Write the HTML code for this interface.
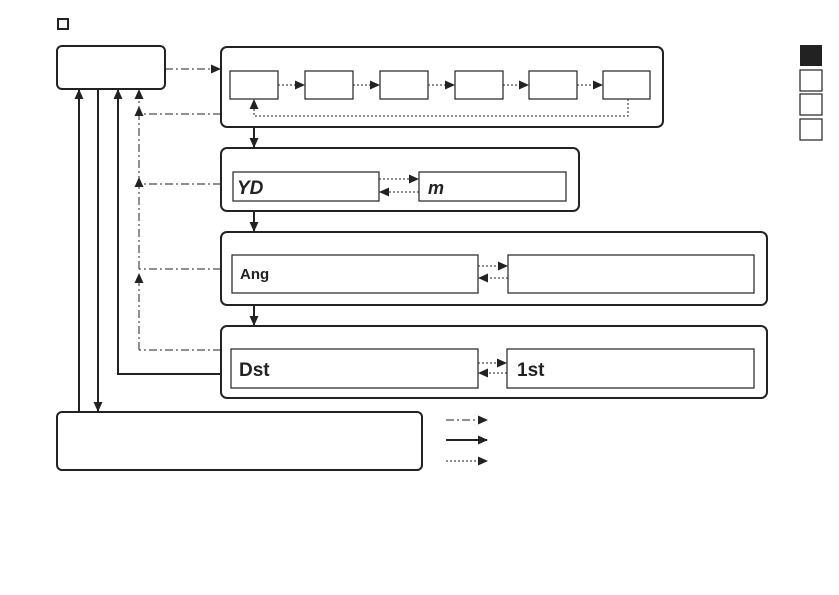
<!DOCTYPE html>
<html><head><style>body{margin:0;background:#fff}svg{display:block}</style></head><body>
<svg width="839" height="595" viewBox="0 0 839 595" xmlns="http://www.w3.org/2000/svg" font-family="Liberation Sans, sans-serif">
<defs>
<marker id="a" markerWidth="10" markerHeight="10" refX="9" refY="5" orient="auto" markerUnits="userSpaceOnUse"><path d="M0,0.5 L10,5 L0,9.5 z" fill="#222"/></marker>
</defs>
<g fill="none" stroke="#222">
<rect x="58" y="19" width="10" height="10" stroke-width="2"/>
<rect x="57" y="46" width="108" height="43" rx="5" stroke-width="2"/>
<rect x="221" y="47" width="442" height="80" rx="6" stroke-width="2"/>
<rect x="221" y="148" width="358" height="63" rx="6" stroke-width="2"/>
<rect x="221" y="232" width="546" height="73" rx="6" stroke-width="2"/>
<rect x="221" y="326" width="546" height="72" rx="6" stroke-width="2"/>
<rect x="57" y="412" width="365" height="58" rx="5" stroke-width="2"/>
<g stroke-width="1.2">
<rect x="230" y="71" width="48" height="28"/><rect x="305" y="71" width="48" height="28"/><rect x="380" y="71" width="48" height="28"/><rect x="455" y="71" width="48" height="28"/><rect x="529" y="71" width="48" height="28"/><rect x="603" y="71" width="47" height="28"/>
<rect x="233" y="172" width="146" height="29"/><rect x="419" y="172" width="147" height="29"/>
<rect x="232" y="255" width="246" height="38"/><rect x="508" y="255" width="246" height="38"/>
<rect x="231" y="349" width="247" height="39"/><rect x="507" y="349" width="247" height="39"/>
</g>
<g stroke-width="1" stroke-dasharray="2,2" marker-end="url(#a)">
<path d="M278 85H304"/><path d="M353 85H379"/><path d="M428 85H454"/><path d="M503 85H528"/><path d="M577 85H602"/>
<path d="M628 99V116H254V100"/>
<path d="M379 179H418"/><path d="M419 192H380"/>
<path d="M478 266H507"/><path d="M508 278H479"/>
<path d="M478 363H506"/><path d="M507 373H479"/>
<path d="M446 461H487"/>
</g>
<g stroke-width="1" stroke-dasharray="8,3,2,3">
<path d="M165 69H220" marker-end="url(#a)"/>
<path d="M221 114H139"/><path d="M221 184H139"/><path d="M221 269H139"/><path d="M221 350H139"/>
<path d="M139 350V274" marker-end="url(#a)"/><path d="M139 269V178" marker-end="url(#a)"/><path d="M139 184V107" marker-end="url(#a)"/><path d="M139 114V90" marker-end="url(#a)"/>
<path d="M446 420H487" marker-end="url(#a)"/>
</g>
<g stroke-width="2" marker-end="url(#a)">
<path d="M79 412V90"/><path d="M98 89V411"/><path d="M221 374H118V90"/>
<path d="M254 127V147"/><path d="M254 211V231"/><path d="M254 305V325"/>
<path d="M446 440H487"/>
</g>
</g>
<rect x="800" y="45" width="22" height="21" fill="#222"/>
<g fill="none" stroke="#222" stroke-width="1.2"><rect x="800" y="70" width="22" height="21"/><rect x="800" y="94" width="22" height="21"/><rect x="800" y="119" width="22" height="21"/></g>
<g fill="#222" font-weight="bold">
<text x="237" y="194" font-size="19" font-style="italic">YD</text>
<text x="428" y="194" font-size="18" font-style="italic">m</text>
<text x="240" y="279" font-size="15">Ang</text>
<text x="239" y="376" font-size="19">Dst</text>
<text x="517" y="376" font-size="19">1st</text>
</g>
</svg>
</body></html>
